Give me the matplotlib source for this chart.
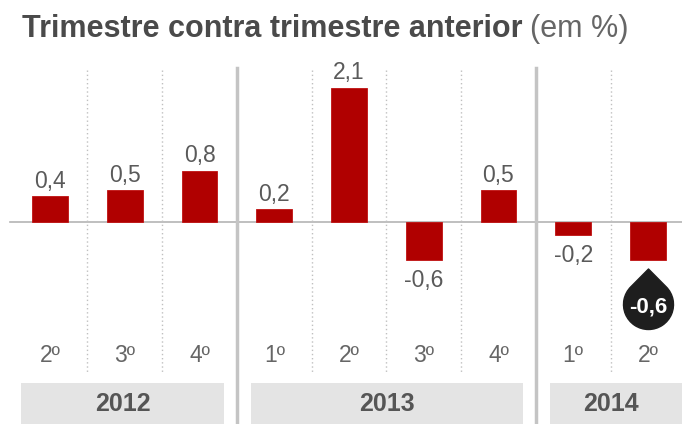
import numpy as np
import matplotlib
matplotlib.use('Agg')
import matplotlib.pyplot as plt
from matplotlib.path import Path
from matplotlib.transforms import ScaledTranslation

plt.rcParams['font.family'] = ['Liberation Sans', 'DejaVu Sans']

quarters = ['2º', '3º', '4º', '1º', '2º', '3º', '4º', '1º', '2º']
values = [0.4, 0.5, 0.8, 0.2, 2.1, -0.6, 0.5, -0.2, -0.6]
years = ['2012', '2013', '2014']
year_groups = [(0, 2), (3, 6), (7, 8)]  # first and last bar index per year

bar_color = '#b00000'
text_gray = '#5a5a5a'

fig = plt.figure(figsize=(6.82, 4.24), dpi=100)
ax = fig.add_axes([0, 0, 1, 1])
ax.set_xlim(-0.669, 8.455)
ax.set_ylim(-3.156, 3.469)
ax.axis('off')

x = np.arange(len(values))

# zero line
ax.plot([-0.535, 8.455], [0, 0], color='#b4b4b4', lw=1.2, zorder=1)

# dotted lines between quarters, solid lines between years
for i in range(len(values) - 1):
    xs = i + 0.5
    if any(xs == g[1] + 0.5 for g in year_groups):
        ax.plot([xs, xs], [2.406, -3.156], color='#c4c4c4', lw=2.5, zorder=1)
    else:
        ax.plot([xs, xs], [2.375, -2.36], color='#c0c0c0', lw=1, ls=(0, (1, 2)), zorder=1)

ax.bar(x, values, width=0.48, color=bar_color, edgecolor='#c01010', lw=0.6, zorder=2)

# value labels (the last one goes in the drop marker)
for i, v in enumerate(values[:-1]):
    label = f'{v:.1f}'.replace('.', ',')
    if v >= 0:
        ax.annotate(label, (i, v), xytext=(0, 2.5), textcoords='offset points',
                    ha='center', va='bottom', fontsize=16.5, color=text_gray)
    else:
        ax.annotate(label, (i, v), xytext=(0, -6.5), textcoords='offset points',
                    ha='center', va='top', fontsize=16.5, color=text_gray)

# teardrop marker for the latest value
d = 1.42
th = np.degrees(np.arccos(1 / d))
arc = Path.arc(90 + th, 450 - th)
verts = np.vstack([[0, d], arc.vertices, [0, d]])
codes = [Path.MOVETO, Path.LINETO] + list(arc.codes[1:]) + [Path.CLOSEPOLY]
drop = Path(verts, codes)
last = len(values) - 1
off = ScaledTranslation(0, -0.44, fig.dpi_scale_trans)
ax.plot([last], [values[last]], marker=drop, markersize=2 * 25 * d * 0.72,
        color='#1e1e1e', transform=ax.transData + off, zorder=3, clip_on=False)
ax.text(last, values[last], f'{values[last]:.1f}'.replace('.', ','),
        transform=ax.transData + off, ha='center', va='center_baseline',
        fontsize=16, fontweight='bold', color='white', zorder=4)

# quarter labels
for i, q in enumerate(quarters):
    ax.text(i, -2.09, q, ha='center', va='center', fontsize=16.5, color='#666666')

# year boxes
for yr, (a, b) in zip(years, year_groups):
    left = a - 0.5 + 0.19
    right = b + 0.5 - 0.17
    if a == 0:
        left = -0.39
    mid = (left + right) / 2
    if b == len(values) - 1:
        right = 8.455
    ax.fill_between([left, right], -3.156, -2.516, color='#e4e4e4', lw=0, zorder=1)
    ax.text(mid, -2.84, yr, ha='center', va='center', fontsize=18,
            fontweight='bold', color='#555555')

# title: bold part followed by normal part
t1 = fig.text(22 / 682, 1 - 37 / 424, 'Trimestre contra trimestre anterior',
              fontsize=22, fontweight='bold', color='#4a4a4a', va='baseline')
fig.canvas.draw()
bb = t1.get_window_extent()
fig.text((bb.x1 + 8) / 682, 1 - 37 / 424, '(em %)', fontsize=22,
         color='#666666', va='baseline')

fig.savefig('out.png', dpi=100)
